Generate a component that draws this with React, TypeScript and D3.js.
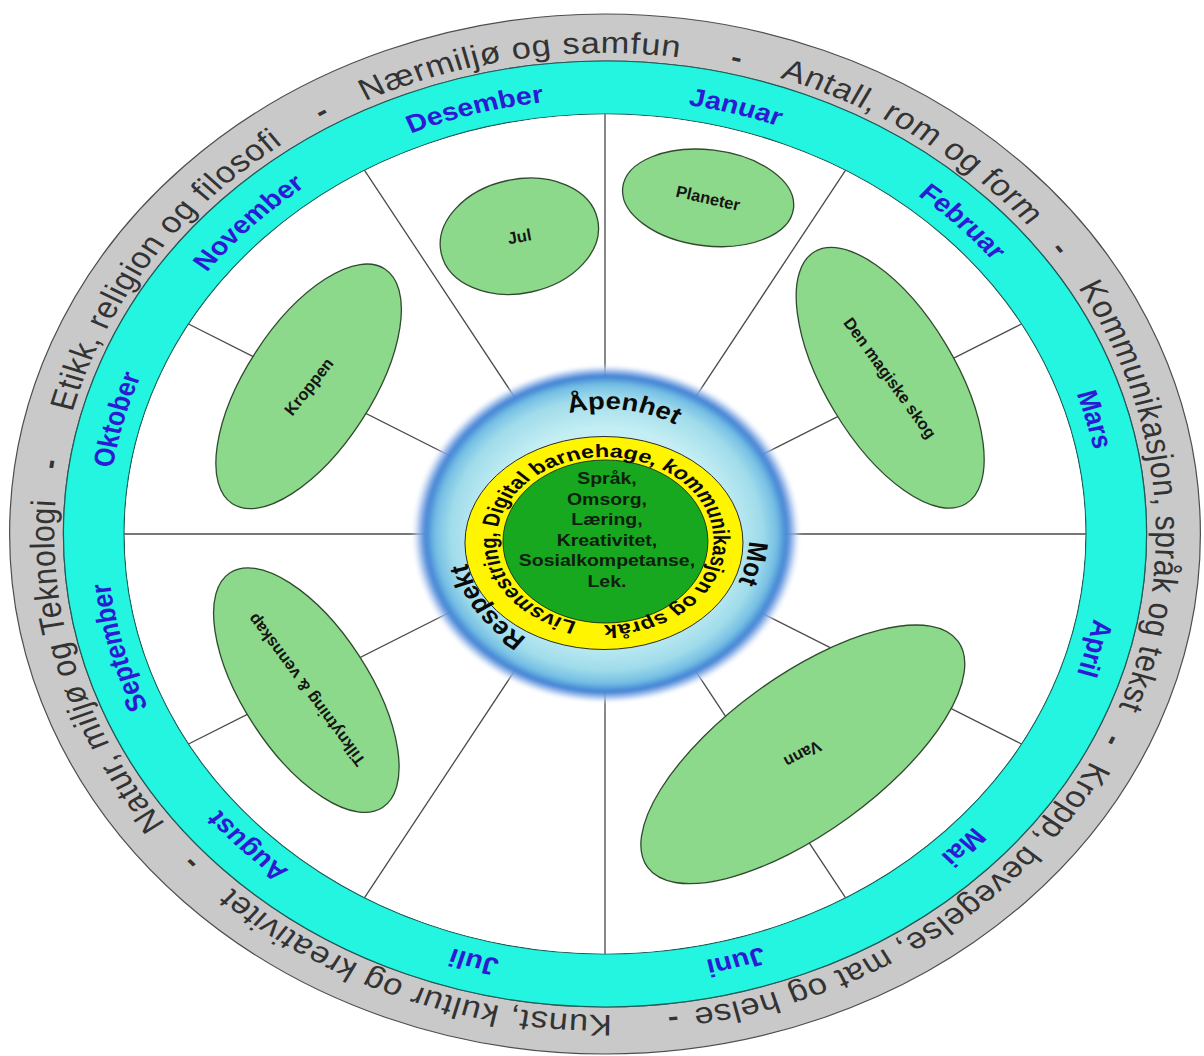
import * as d3 from "d3";
import React, { useEffect, useRef } from "react";

// months around the wheel, clockwise from the top
const months = [
  "Januar", "Februar", "Mars", "April", "Mai", "Juni",
  "Juli", "August", "September", "Oktober", "November", "Desember",
];

// learning areas in the grey outer ring
const areas = [
  "Nærmiljø og samfun",
  "Antall, rom og form",
  "Kommunikasjon, språk og tekst",
  "Kropp, bevegelse, mat og helse",
  "Kunst, kultur og kreativitet",
  "Natur, miljø og Teknologi",
  "Etikk, religion og filosofi",
];
// where each label is centred / where the dashes sit (degrees clockwise from top)
const areaAngles = [351, 34.4, 85.2, 144.5, 201, 253.5, 304.5];
const dashAngles = [13.6, 54.3, 115, 173, 227.7, 278.2, 329.6];

const values = ["Åpenhet", "Mot", "Respekt"];
const valueAngles = [7, 103, 235];

const ringText = "Livsmestring, Digital barnehage, kommunikasjon og språk";
const ringStart = 195;

const coreWords = ["Språk,", "Omsorg,", "Læring,", "Kreativitet,", "Sosialkompetanse,", "Lek."];

// project themes and their position on the year (in months from 1 Jan)
const topics = ["Jul", "Planeter", "Den magiske skog", "Vann", "Tilknytning & vennskap", "Kroppen"];
const topicMonth = [11.53, 0.5, 1.93, 4.73, 7.97, 9.99];

// layout
const W = 1204;
const H = 1056;
const CX = 605;
const CY = 534;
const SX = 1.145; // the whole wheel is stretched sideways
const R_OUT = 520;
const R_CYAN = 473;
const R_WHITE = 420;
const topicRadius = [307, 348, 294, 280, 304, 298];
const topicSize = [[80, 57], [86, 48], [147, 65], [192, 78], [140, 63], [140, 63]];
const topicTilt = [-12, 7, 59, -36, 57, -57];
const textTilt = [-10.5, 13, 54, 152.5, 233.4, -51.6];

const FONT = "'Liberation Sans', Arial, Helvetica, sans-serif";

// circle walked twice clockwise from the top, so text never runs off the end
function loopPath(r: number, x = 0, y = 0) {
  const a = `A${r},${r} 0 1 1 `;
  return `M${x},${y - r} ${a}${x},${y + r} ${a}${x},${y - r} ${a}${x},${y + r} ${a}${x},${y - r}`;
}
const offsetAt = (deg: number) => {
  const d = deg < 90 ? deg + 360 : deg;
  return `${(d / 720) * 100}%`;
};

export default function App() {
  const ref = useRef<SVGSVGElement>(null);

  useEffect(() => {
    const svg = d3.select(ref.current);
    svg.selectAll("*").remove();

    const defs = svg.append("defs");
    defs.append("path").attr("id", "p-grey").attr("d", loopPath(481));
    defs.append("path").attr("id", "p-month").attr("d", loopPath(435));
    defs.append("path").attr("id", "p-value").attr("d", loopPath(125, 1, 0));
    defs.append("path").attr("id", "p-core").attr("d", loopPath(84));

    const glow = defs.append("radialGradient").attr("id", "glow");
    [
      [0, "#dff8f9", 1],
      [0.62, "#c4eef4", 1],
      [0.8, "#a0dcea", 1],
      [0.88, "#74bee4", 1],
      [0.93, "#3f80d4", 1],
      [0.965, "#9dbdec", 0.8],
      [1, "#ffffff", 0],
    ].forEach(([o, c, op]) =>
      glow.append("stop").attr("offset", o as number).attr("stop-color", c as string).attr("stop-opacity", op as number)
    );
    defs.append("filter").attr("id", "soft")
      .append("feGaussianBlur").attr("stdDeviation", 1.8);

    const angleOf = d3.scaleLinear().domain([0, 12]).range([0, 2 * Math.PI]);
    const pie = d3.pie<string>().value(() => 1).sort(null);
    const slices = pie(months);
    const ring = d3.arc<any>();

    const wheel = svg.append("g")
      .attr("transform", `translate(${CX},${CY}) scale(${SX},1)`)
      .style("font-family", FONT);

    // grey and cyan rings, white face
    wheel.append("path")
      .attr("d", ring({ innerRadius: R_CYAN, outerRadius: R_OUT, startAngle: 0, endAngle: 2 * Math.PI }))
      .attr("fill", "#c9c9c9").attr("stroke", "#4d4d4d").attr("stroke-width", 1.2)
      .attr("vector-effect", "non-scaling-stroke");
    wheel.append("path")
      .attr("d", ring({ innerRadius: R_WHITE, outerRadius: R_CYAN, startAngle: 0, endAngle: 2 * Math.PI }))
      .attr("fill", "#24f5e0").attr("stroke", "#1f5d5a").attr("stroke-width", 1.2)
      .attr("vector-effect", "non-scaling-stroke");
    wheel.append("circle").attr("r", R_WHITE - 0.6).attr("fill", "#ffffff");

    // month dividers
    wheel.selectAll("line.div")
      .data(slices)
      .join("line")
      .attr("class", "div")
      .attr("x1", (d) => 150 * Math.sin(d.startAngle))
      .attr("y1", (d) => -150 * Math.cos(d.startAngle))
      .attr("x2", (d) => R_WHITE * Math.sin(d.startAngle))
      .attr("y2", (d) => -R_WHITE * Math.cos(d.startAngle))
      .attr("stroke", "#4a4a4a").attr("stroke-width", 1.3)
      .attr("vector-effect", "non-scaling-stroke");

    // month names
    slices.forEach((d) => {
      const mid = ((d.startAngle + d.endAngle) / 2) * 180 / Math.PI;
      wheel.append("text")
        .attr("text-anchor", "middle")
        .attr("font-size", 25).attr("font-weight", "bold").attr("fill", "#2b1bd3")
        .append("textPath").attr("href", "#p-month").attr("startOffset", offsetAt(mid))
        .text(d.data);
    });

    // learning areas + separators
    areas.forEach((t, i) => {
      wheel.append("text")
        .attr("text-anchor", "middle")
        .attr("font-size", 30).attr("letter-spacing", 0.7).attr("fill", "#333333")
        .append("textPath").attr("href", "#p-grey").attr("startOffset", offsetAt(areaAngles[i]))
        .text(t);
      wheel.append("text")
        .attr("text-anchor", "middle")
        .attr("font-size", 28).attr("font-weight", "bold").attr("fill", "#333333")
        .append("textPath").attr("href", "#p-grey").attr("startOffset", offsetAt(dashAngles[i]))
        .text("-");
    });

    // project themes
    const themes = svg.append("g").style("font-family", FONT);
    topics.forEach((t, i) => {
      const a = angleOf(topicMonth[i]);
      const x = CX + SX * topicRadius[i] * Math.sin(a);
      const y = CY - topicRadius[i] * Math.cos(a);
      themes.append("ellipse")
        .attr("transform", `translate(${x},${y}) rotate(${topicTilt[i]})`)
        .attr("rx", topicSize[i][0]).attr("ry", topicSize[i][1])
        .attr("fill", "#8dd98b").attr("stroke", "#2f4a2f").attr("stroke-width", 1.3);
      themes.append("text")
        .attr("transform", `translate(${x},${y}) rotate(${textTilt[i]})`)
        .attr("text-anchor", "middle").attr("dominant-baseline", "central")
        .attr("font-size", 16.5).attr("font-weight", "bold").attr("fill", "#151515")
        .text(t);
    });

    // centre: glow, yellow ring, green core
    const core = svg.append("g")
      .attr("transform", `translate(${CX},${CY}) scale(${SX},1)`)
      .style("font-family", FONT);
    core.append("circle").attr("cx", 1).attr("cy", 0).attr("r", 170)
      .attr("fill", "url(#glow)").attr("filter", "url(#soft)");
    core.append("ellipse").attr("cx", -0.9).attr("cy", 9).attr("rx", 121.4).attr("ry", 106.5)
      .attr("fill", "#fff500").attr("stroke", "#2a2a2a").attr("stroke-width", 1)
      .attr("vector-effect", "non-scaling-stroke");
    core.append("ellipse").attr("cx", 0.4).attr("cy", 7.5).attr("rx", 89.5).attr("ry", 81.5)
      .attr("fill", "#17a820").attr("stroke", "#1c3c1c").attr("stroke-width", 1)
      .attr("vector-effect", "non-scaling-stroke");

    values.forEach((t, i) => {
      core.append("text")
        .attr("text-anchor", "middle")
        .attr("font-size", 24).attr("font-weight", "bold").attr("fill", "#0a0a0a")
        .append("textPath").attr("href", "#p-value").attr("startOffset", offsetAt(valueAngles[i]))
        .text(t);
    });

    core.append("g").attr("transform", "translate(0,7) scale(1.128,1)")
      .append("text")
      .attr("font-size", 18.2).attr("font-weight", "bold").attr("fill", "#0a0a0a")
      .append("textPath").attr("href", "#p-core").attr("startOffset", offsetAt(ringStart))
      .text(ringText);

    core.selectAll("text.word")
      .data(coreWords)
      .join("text")
      .attr("class", "word")
      .attr("x", 1.7)
      .attr("y", (_, i) => -56 + i * 20.6)
      .attr("text-anchor", "middle").attr("dominant-baseline", "central")
      .attr("font-size", 17).attr("font-weight", "bold").attr("fill", "#0f200f")
      .text((d) => d);
  }, []);

  return (
    <svg
      ref={ref}
      width={W}
      height={H}
      style={{ position: "absolute", left: 0, top: 0, background: "#ffffff" }}
    />
  );
}
